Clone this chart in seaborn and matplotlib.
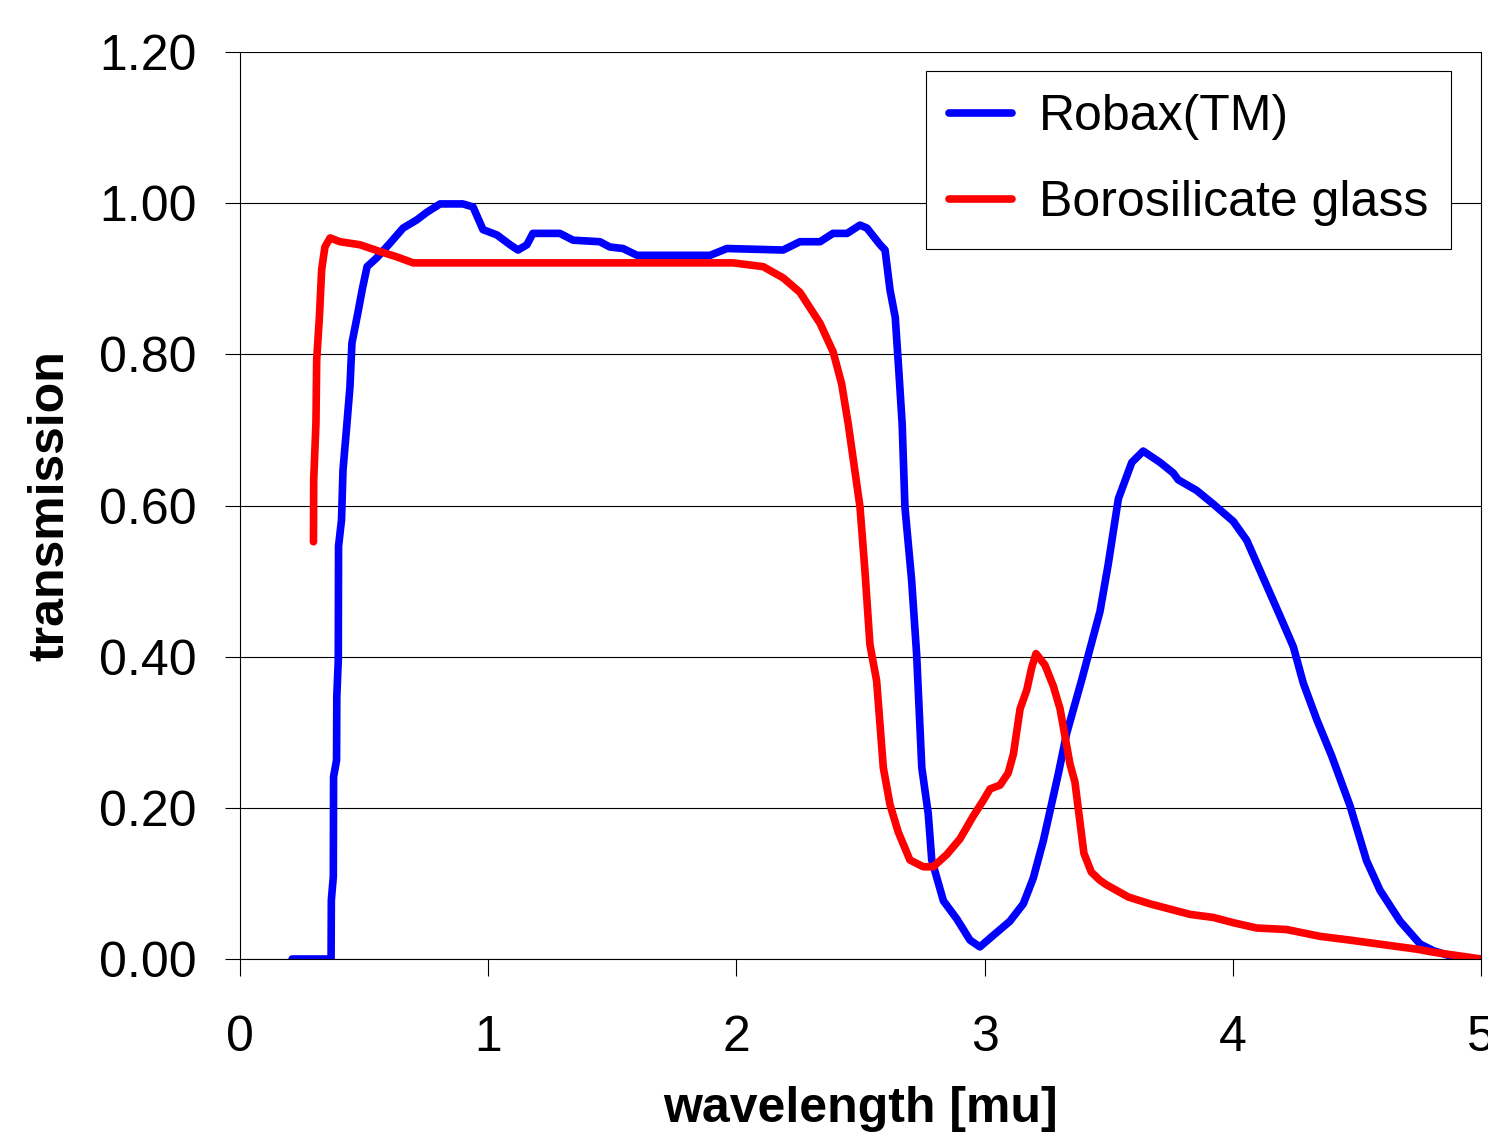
"""Transmission spectra of Robax(TM) vs. borosilicate glass."""
import matplotlib
matplotlib.use("Agg")
import matplotlib.pyplot as plt
import pandas as pd
import seaborn as sns

# Robax(TM) curve
robax_wl = [0.21, 0.367, 0.368, 0.376, 0.377, 0.389, 0.390, 0.396, 0.397, 0.409,
            0.415, 0.431, 0.443, 0.451, 0.475, 0.492, 0.512, 0.552, 0.604, 0.657,
            0.713, 0.753, 0.806, 0.898, 0.939, 0.979, 1.035, 1.088, 1.120, 1.156,
            1.180, 1.289, 1.342, 1.450, 1.490, 1.543, 1.600, 1.894, 1.962, 2.188,
            2.256, 2.337, 2.389, 2.446, 2.498, 2.526, 2.579, 2.599, 2.619, 2.640,
            2.655, 2.668, 2.679, 2.706, 2.726, 2.747, 2.773, 2.787, 2.834, 2.888,
            2.941, 2.981, 3.034, 3.102, 3.156, 3.196, 3.237, 3.263, 3.297, 3.331,
            3.391, 3.465, 3.498, 3.539, 3.593, 3.639, 3.707, 3.760, 3.780, 3.854,
            3.921, 4.002, 4.056, 4.123, 4.190, 4.244, 4.284, 4.338, 4.398, 4.472,
            4.539, 4.593, 4.674, 4.754, 4.808, 4.915, 5.0]
robax_tr = [0.0, 0.0, 0.078, 0.109, 0.241, 0.263, 0.347, 0.396, 0.546, 0.581,
            0.647, 0.709, 0.757, 0.815, 0.855, 0.885, 0.916, 0.928, 0.947, 0.967,
            0.978, 0.988, 0.999, 0.999, 0.995, 0.965, 0.958, 0.945, 0.938, 0.945,
            0.960, 0.960, 0.951, 0.949, 0.942, 0.940, 0.931, 0.931, 0.940, 0.938,
            0.949, 0.949, 0.960, 0.960, 0.971, 0.967, 0.945, 0.938, 0.885, 0.849,
            0.775, 0.707, 0.598, 0.501, 0.404, 0.253, 0.192, 0.131, 0.077, 0.053,
            0.025, 0.016, 0.031, 0.050, 0.073, 0.107, 0.157, 0.195, 0.245, 0.299,
            0.369, 0.460, 0.522, 0.609, 0.657, 0.672, 0.657, 0.643, 0.634, 0.620,
            0.602, 0.579, 0.554, 0.504, 0.454, 0.413, 0.365, 0.317, 0.269, 0.203,
            0.130, 0.091, 0.050, 0.020, 0.011, 0.0, 0.0]

# Borosilicate glass curve
boro_wl = [0.296, 0.297, 0.306, 0.309, 0.320, 0.329, 0.342, 0.363, 0.403, 0.483,
           0.564, 0.631, 0.698, 1.0, 1.5, 1.987, 2.108, 2.189, 2.256, 2.337,
           2.390, 2.424, 2.451, 2.498, 2.518, 2.538, 2.565, 2.592, 2.619, 2.652,
           2.699, 2.753, 2.793, 2.847, 2.901, 2.954, 2.995, 3.022, 3.062, 3.095,
           3.116, 3.143, 3.170, 3.190, 3.207, 3.243, 3.277, 3.304, 3.344, 3.364,
           3.400, 3.430, 3.465, 3.492, 3.579, 3.666, 3.828, 3.921, 4.002, 4.096,
           4.217, 4.351, 4.472, 4.741, 4.808, 5.0]
boro_tr = [0.552, 0.634, 0.709, 0.793, 0.850, 0.912, 0.942, 0.954, 0.949, 0.945,
           0.936, 0.929, 0.921, 0.921, 0.921, 0.921, 0.916, 0.901, 0.882, 0.841,
           0.803, 0.761, 0.707, 0.598, 0.513, 0.416, 0.368, 0.253, 0.204, 0.168,
           0.131, 0.122, 0.122, 0.138, 0.159, 0.189, 0.210, 0.225, 0.230, 0.246,
           0.271, 0.331, 0.356, 0.386, 0.404, 0.389, 0.361, 0.331, 0.258, 0.234,
           0.140, 0.115, 0.104, 0.098, 0.082, 0.073, 0.059, 0.055, 0.048, 0.041,
           0.039, 0.030, 0.025, 0.013, 0.009, 0.0]

series_names = ["Robax(TM)", "Borosilicate glass"]
series_colors = ["#0000FF", "#FF0000"]
y_ticks = [0.0, 0.2, 0.4, 0.6, 0.8, 1.0, 1.2]
x_ticks = [0, 1, 2, 3, 4, 5]

df = pd.concat([
    pd.DataFrame({"wl": robax_wl, "tr": robax_tr, "material": series_names[0]}),
    pd.DataFrame({"wl": boro_wl, "tr": boro_tr, "material": series_names[1]}),
], ignore_index=True)

sns.set_theme(style="white")
plt.rcParams["font.family"] = ["Liberation Sans", "DejaVu Sans"]
plt.rcParams["text.color"] = "black"
plt.rcParams["axes.labelcolor"] = "black"
FS = 36

fig = plt.figure(figsize=(14.88, 11.42), dpi=100)
ax = fig.add_axes([240 / 1488, 1 - 959 / 1142, 1241 / 1488, 907 / 1142])

sns.lineplot(data=df, x="wl", y="tr", hue="material",
             palette=dict(zip(series_names, series_colors)),
             estimator=None, sort=False, linewidth=5.5, ax=ax)

ax.set_xlim(0, 5)
ax.set_ylim(0, 1.2)
ax.set_xticks(x_ticks)
ax.set_xticklabels([str(t) for t in x_ticks])
ax.set_yticks(y_ticks)
ax.set_yticklabels([f"{t:.2f}" for t in y_ticks])
ax.yaxis.grid(True, color="black", linewidth=0.8)
ax.set_axisbelow(True)
ax.tick_params(axis="y", direction="out", length=11, width=0.8, pad=20,
               labelsize=FS, left=True, colors="black")
ax.tick_params(axis="x", direction="out", length=12, width=0.8, pad=28,
               labelsize=FS, bottom=True, colors="black")
for side in ["left", "bottom", "right"]:
    ax.spines[side].set_color("black")
    ax.spines[side].set_linewidth(0.8)
ax.spines["top"].set_visible(False)

ax.set_xlabel("wavelength [mu]", fontsize=FS, fontweight="bold", labelpad=18)
ax.set_ylabel("transmission", fontsize=FS, fontweight="bold", labelpad=19)

handles, labels = ax.get_legend_handles_labels()
leg = ax.legend(handles, labels, loc="upper right",
                bbox_to_anchor=(1451 / 1488, 1 - 71 / 1142),
                bbox_transform=fig.transFigure, borderaxespad=0,
                fontsize=FS, frameon=True, fancybox=False, framealpha=1,
                edgecolor="black", facecolor="white", handlelength=1.26,
                handletextpad=0.54, labelspacing=0.80, borderpad=0.46)
leg.get_frame().set_linewidth(0.8)
for line in leg.get_lines():
    line.set_linewidth(5.5)
for text in leg.get_texts():
    text.set_color("black")

fig.savefig("out.png", dpi=100)
